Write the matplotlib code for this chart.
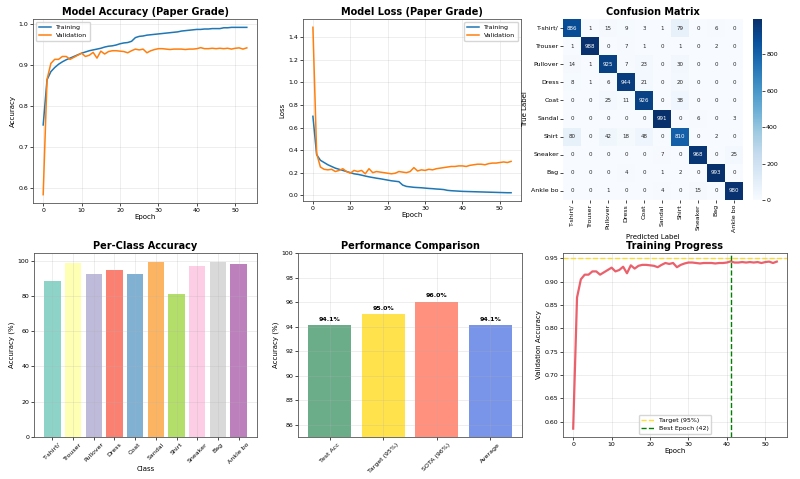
import numpy as np
import matplotlib
matplotlib.use("Agg")
import matplotlib.pyplot as plt
import seaborn as sns

# ---- data ----
train_acc = [0.755, 0.865, 0.885, 0.895, 0.903, 0.909, 0.914, 0.918, 0.922, 0.926,
             0.930, 0.933, 0.936, 0.938, 0.940, 0.942, 0.945, 0.947, 0.948, 0.950,
             0.953, 0.955, 0.956, 0.959, 0.968, 0.971, 0.972, 0.974, 0.975, 0.976,
             0.977, 0.978, 0.979, 0.980, 0.981, 0.982, 0.984, 0.985, 0.986, 0.987,
             0.988, 0.988, 0.989, 0.989, 0.990, 0.990, 0.990, 0.992, 0.992, 0.993,
             0.993, 0.993, 0.993, 0.993]
val_acc = [0.585, 0.866, 0.905, 0.915, 0.915, 0.922, 0.922, 0.915, 0.920, 0.925,
           0.930, 0.922, 0.925, 0.932, 0.918, 0.935, 0.928, 0.934, 0.936, 0.936,
           0.935, 0.934, 0.931, 0.936, 0.940, 0.938, 0.940, 0.931, 0.936, 0.939,
           0.941, 0.941, 0.940, 0.939, 0.940, 0.940, 0.940, 0.939, 0.940, 0.940,
           0.941, 0.9435, 0.941, 0.941, 0.942, 0.941, 0.942, 0.941, 0.942, 0.940,
           0.942, 0.943, 0.940, 0.943]
train_loss = [0.70, 0.36, 0.31, 0.29, 0.27, 0.255, 0.24, 0.23, 0.22, 0.21,
              0.20, 0.19, 0.185, 0.178, 0.17, 0.163, 0.157, 0.151, 0.146, 0.14,
              0.134, 0.128, 0.124, 0.12, 0.09, 0.078, 0.074, 0.07, 0.068, 0.066,
              0.063, 0.06, 0.058, 0.055, 0.053, 0.05, 0.043, 0.04, 0.038, 0.036,
              0.034, 0.033, 0.032, 0.031, 0.030, 0.029, 0.028, 0.027, 0.026, 0.025,
              0.024, 0.023, 0.022, 0.022]
val_loss = [1.49, 0.37, 0.25, 0.23, 0.225, 0.23, 0.21, 0.22, 0.235, 0.21,
            0.195, 0.22, 0.21, 0.22, 0.19, 0.235, 0.20, 0.21, 0.205, 0.20,
            0.195, 0.19, 0.195, 0.21, 0.205, 0.20, 0.21, 0.245, 0.215, 0.225,
            0.22, 0.23, 0.225, 0.235, 0.24, 0.245, 0.25, 0.255, 0.255, 0.26,
            0.26, 0.255, 0.265, 0.27, 0.275, 0.275, 0.27, 0.28, 0.285, 0.285,
            0.29, 0.295, 0.29, 0.30]

class_names = ['T-shirt/top', 'Trouser', 'Pullover', 'Dress', 'Coat',
               'Sandal', 'Shirt', 'Sneaker', 'Bag', 'Ankle boot']
short_names = [c[:8] for c in class_names]

conf_mat = np.array([
    [886, 1, 15, 9, 3, 1, 79, 0, 6, 0],
    [1, 988, 0, 7, 1, 0, 1, 0, 2, 0],
    [14, 1, 925, 7, 23, 0, 30, 0, 0, 0],
    [8, 1, 6, 944, 21, 0, 20, 0, 0, 0],
    [0, 0, 25, 11, 926, 0, 38, 0, 0, 0],
    [0, 0, 0, 0, 0, 991, 0, 6, 0, 3],
    [80, 0, 42, 18, 48, 0, 810, 0, 2, 0],
    [0, 0, 0, 0, 0, 7, 0, 968, 0, 25],
    [0, 0, 0, 4, 0, 1, 2, 0, 993, 0],
    [0, 0, 1, 0, 0, 4, 0, 15, 0, 980],
])

comp_labels = ['Test Acc', 'Target (95%)', 'SOTA (96%)', 'Average']
comp_values = [94.1, 95.0, 96.0, 94.1]
comp_colors = ['#2E8B57', '#FFD700', '#FF6347', '#4169E1']

best_epoch = 41
target_acc = 0.95

# ---- layout ----
W, H = 800, 479
fig = plt.figure(figsize=(8, 4.79), dpi=100)


def box(x0, y0, x1, y1):
    return [x0 / W, 1 - y1 / H, (x1 - x0) / W, (y1 - y0) / H]


TS = 7      # title size
LS = 5      # label size
KS = 4.5    # tick size


def style(ax):
    ax.tick_params(labelsize=KS, length=2, width=0.5, pad=1.5)
    ax.grid(True, alpha=0.3, linewidth=0.5)
    for s in ax.spines.values():
        s.set_linewidth(0.6)
        s.set_color('#555555')


epochs = np.arange(len(train_acc))

# accuracy
ax1 = fig.add_axes(box(33, 19, 257, 203))
ax1.plot(epochs, train_acc, label='Training', linewidth=1.1, color='#1f77b4')
ax1.plot(epochs, val_acc, label='Validation', linewidth=1.1, color='#ff7f0e')
ax1.set_yticks([0.6, 0.7, 0.8, 0.9, 1.0])
ax1.set_title('Model Accuracy (Paper Grade)', fontsize=TS, fontweight='bold', pad=3)
ax1.set_xlabel('Epoch', fontsize=LS, labelpad=1)
ax1.set_ylabel('Accuracy', fontsize=LS, labelpad=2)
ax1.legend(fontsize=4.5, loc='upper left', framealpha=0.8)
style(ax1)

# loss
ax2 = fig.add_axes(box(303, 19, 521, 201))
ax2.plot(epochs, train_loss, label='Training', linewidth=1.1, color='#1f77b4')
ax2.plot(epochs, val_loss, label='Validation', linewidth=1.1, color='#ff7f0e')
ax2.set_title('Model Loss (Paper Grade)', fontsize=TS, fontweight='bold', pad=3)
ax2.set_xlabel('Epoch', fontsize=LS, labelpad=1)
ax2.set_ylabel('Loss', fontsize=LS, labelpad=2)
ax2.legend(fontsize=4.5, loc='upper right', framealpha=0.8)
style(ax2)

# confusion matrix
ax3 = fig.add_axes(box(563, 19, 743, 200))
cax = fig.add_axes(box(753, 19, 762, 200))
sns.heatmap(conf_mat, annot=True, fmt='d', cmap='Blues', ax=ax3, cbar_ax=cax,
            xticklabels=short_names, yticklabels=short_names,
            annot_kws={'fontsize': 4})
ax3.set_title('Confusion Matrix', fontsize=TS, fontweight='bold', pad=3)
ax3.set_xlabel('Predicted Label', fontsize=LS, labelpad=2)
ax3.set_ylabel('True Label', fontsize=LS, labelpad=2)
ax3.tick_params(labelsize=KS, length=2, width=0.5, pad=1)
plt.setp(ax3.get_xticklabels(), rotation=90)
plt.setp(ax3.get_yticklabels(), rotation=0)
cax.tick_params(labelsize=KS, length=2, width=0.5, pad=1)

# per-class accuracy
ax4 = fig.add_axes(box(34, 253, 257, 437))
per_class = np.diag(conf_mat) / conf_mat.sum(axis=1) * 100
set3 = plt.cm.Set3(np.arange(10))
ax4.bar(short_names, per_class, color=set3)
ax4.set_title('Per-Class Accuracy', fontsize=TS, fontweight='bold', pad=3)
ax4.set_xlabel('Class', fontsize=LS, labelpad=1)
ax4.set_ylabel('Accuracy (%)', fontsize=LS, labelpad=2)
style(ax4)
plt.setp(ax4.get_xticklabels(), rotation=45)

# performance comparison
ax5 = fig.add_axes(box(298, 253, 522, 437))
bars = ax5.bar(comp_labels, comp_values, color=comp_colors, alpha=0.7)
for b, v in zip(bars, comp_values):
    ax5.text(b.get_x() + b.get_width() / 2, v + 0.3, f'{v:.1f}%',
             ha='center', va='bottom', fontsize=4.5, fontweight='bold')
ax5.set_ylim(85, 100)
ax5.set_yticks(np.arange(86, 101, 2))
ax5.set_title('Performance Comparison', fontsize=TS, fontweight='bold', pad=3)
ax5.set_ylabel('Accuracy (%)', fontsize=LS, labelpad=2)
style(ax5)
plt.setp(ax5.get_xticklabels(), rotation=45)

# training progress
ax6 = fig.add_axes(box(563, 253, 787, 437))
ax6.plot(epochs, val_acc, color='#e63946', linewidth=1.6, alpha=0.8)
ax6.axhline(target_acc, color='gold', linestyle='--', linewidth=1.0, alpha=0.8,
            label='Target (95%)')
ax6.axvline(best_epoch, color='green', linestyle='--', linewidth=1.0,
            label=f'Best Epoch ({best_epoch + 1})')
ax6.set_title('Training Progress', fontsize=TS, fontweight='bold', pad=3)
ax6.set_xlabel('Epoch', fontsize=LS, labelpad=1)
ax6.set_ylabel('Validation Accuracy', fontsize=LS, labelpad=2)
ax6.legend(fontsize=4.5, loc='lower center', framealpha=0.8)
style(ax6)

fig.savefig('out.png', dpi=100)
